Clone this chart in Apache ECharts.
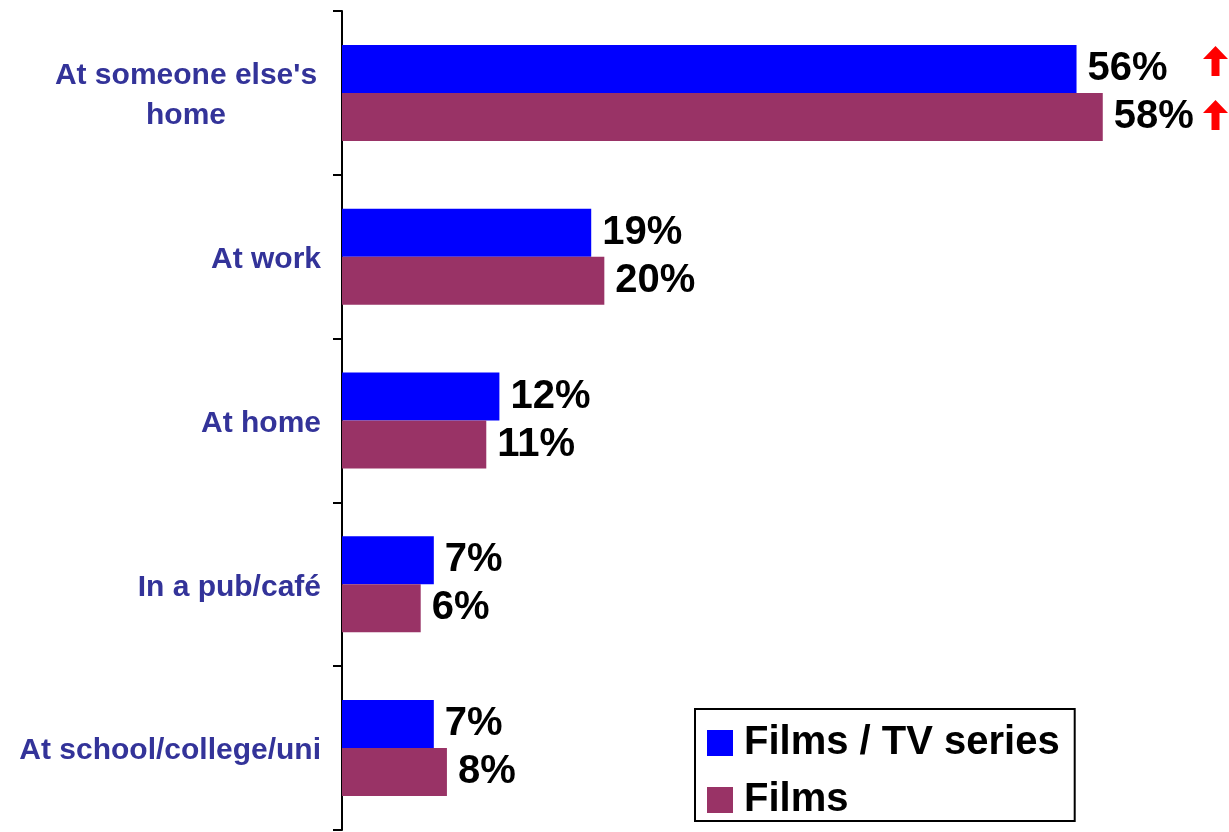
<!DOCTYPE html>
<html>
<head>
<meta charset="utf-8">
<script src="https://cdn.jsdelivr.net/npm/echarts@6/dist/echarts.min.js"></script>
<style>
  html, body { margin: 0; padding: 0; background: #fff; }
  #chart { width: 1229px; height: 832px; }
</style>
</head>
<body>
<div id="chart"></div>
<script>
const categories = ["At someone else's\nhome", 'At work', 'At home', 'In a pub/café', 'At school/college/uni'];
const filmsTv = [56, 19, 12, 7, 7];
const films = [58, 20, 11, 6, 8];
// significant increase markers (red up arrows)
const filmsTvUp = [true, false, false, false, false];
const filmsUp = [true, false, false, false, false];

const FONT = '"Liberation Sans", Arial, sans-serif';

const chart = echarts.init(document.getElementById('chart'));

function barLabel() {
  return {
    show: true,
    position: 'right',
    distance: 11,
    formatter: (p) => `${p.value}%`,
    color: '#000',
    fontFamily: FONT,
    fontWeight: 'bold',
    fontSize: 40,
  };
}

chart.setOption({
  animation: false,
  grid: { left: 342, top: 11, width: 787, height: 819 },
  legend: {
    orient: 'vertical',
    left: 695,
    top: 709,
    data: ['Films / TV series', 'Films'],
    icon: 'rect',
    itemWidth: 26,
    itemHeight: 26,
    itemGap: 17,
    padding: [14, 15, 1, 12],
    borderColor: '#000',
    borderWidth: 2,
    textStyle: {
      color: '#000',
      fontFamily: FONT,
      fontWeight: 'bold',
      fontSize: 40,
      lineHeight: 40,
      padding: [0, 0, 0, 6],
    },
  },
  xAxis: {
    type: 'value',
    min: 0,
    max: 60,
    show: false,
  },
  yAxis: {
    type: 'category',
    inverse: true,
    data: categories,
    axisLine: { lineStyle: { color: '#000', width: 2 } },
    axisTick: { show: true, inside: false, length: 9, lineStyle: { color: '#000', width: 2 } },
    axisLabel: {
      margin: 21,
      padding: [6, 0, 0, 0],
      color: '#333399',
      fontFamily: FONT,
      fontWeight: 'bold',
      fontSize: 30,
      lineHeight: 40,
      formatter: (v) => (v.includes('\n') ? `{c|${v}}` : v),
      rich: {
        c: {
          width: 270,
          align: 'center',
          color: '#333399',
          fontFamily: FONT,
          fontWeight: 'bold',
          fontSize: 30,
          lineHeight: 40,
        },
      },
    },
    splitLine: { show: false },
  },
  series: [
    {
      name: 'Films / TV series',
      type: 'bar',
      data: filmsTv,
      barWidth: 48,
      barGap: '0%',
      itemStyle: { color: '#0000ff' },
      label: barLabel(),
    },
    {
      name: 'Films',
      type: 'bar',
      data: films,
      barWidth: 48,
      itemStyle: { color: '#993366' },
      label: barLabel(),
    },
  ],
});

// red arrows at the right edge, aligned with the flagged bars
const arrowShape = [[0, -15], [12.5, -2], [4, -2], [4, 15], [-4, 15], [-4, -2], [-12.5, -2]];
const arrows = [];
categories.forEach((cat, i) => {
  const cy = chart.convertToPixel({ yAxisIndex: 0 }, i);
  [[filmsTvUp, -32], [filmsUp, 22]].forEach(([flags, off]) => {
    if (!flags[i]) return;
    arrows.push({
      type: 'polygon',
      x: 1215.5,
      y: cy + off,
      shape: { points: arrowShape },
      style: { fill: '#ff0000' },
      silent: true,
    });
  });
});
chart.setOption({ graphic: arrows });
</script>
</body>
</html>
